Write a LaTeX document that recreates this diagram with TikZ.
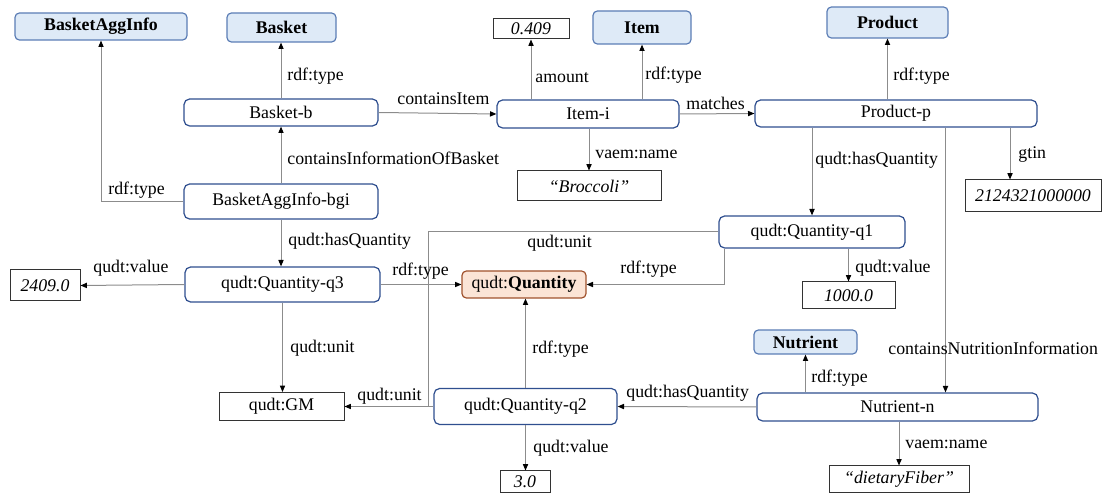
\documentclass[tikz,border=0pt]{standalone}
\usepackage{fontspec}
\setmainfont{Liberation Serif}
\usetikzlibrary{arrows.meta}
\definecolor{clsfill}{HTML}{DEEAF7}
\definecolor{clsdraw}{HTML}{5B7DB5}
\definecolor{instdraw}{HTML}{2F4F8F}
\definecolor{qfill}{HTML}{FBE4D6}
\definecolor{qdraw}{HTML}{A0522D}
\definecolor{edgecol}{HTML}{8C8C8C}
\definecolor{litdraw}{HTML}{333333}
\tikzset{
  every node/.style={font=\fontsize{8.9}{10}\selectfont},
  wh/.style 2 args={minimum width=#1*0.5pt, minimum height=#2*0.5pt},
  clsbox/.style={draw=clsdraw, fill=clsfill, rounded corners=2.2pt, line width=0.6pt, inner sep=0pt, font=\fontsize{8.9}{10}\selectfont\bfseries},
  instbox/.style={draw=instdraw, fill=white, rounded corners=2.8pt, line width=0.6pt, inner sep=0pt},
  litbox/.style={draw=litdraw, fill=white, line width=0.5pt, inner sep=0pt, font=\fontsize{8.9}{10}\selectfont\itshape},
  unitbox/.style={draw=litdraw, fill=white, line width=0.5pt, inner sep=0pt},
  qbox/.style={draw=qdraw, fill=qfill, rounded corners=2.2pt, line width=0.6pt, inner sep=0pt},
  lbl/.style={anchor=west, inner sep=0pt},
  edge/.style={draw=edgecol, line width=0.5pt, -{Triangle[length=3.2pt,width=2.6pt,color=black]}},
  plain/.style={draw=edgecol, line width=0.5pt},
}
\begin{document}
\begin{tikzpicture}[x=0.5pt,y=-0.5pt]
\useasboundingbox (0,0) rectangle (1103,496);
% class nodes
\node[clsbox,wh={172}{27}] (bai) at (101,26.5) {BasketAggInfo};
\node[clsbox,wh={109}{29}] (basket) at (281.5,27.5) {Basket};
\node[clsbox,wh={98}{33}] (item) at (642,27.5) {Item};
\node[clsbox,wh={121}{31}] (product) at (887.5,22.5) {Product};
\node[clsbox,wh={103}{24}] (nutrient) at (805.5,342) {Nutrient};
\node[qbox,wh={124}{27}] (quantity) at (524,284.5) {qudt:\textbf{Quantity}};
% instance nodes
\node[instbox,wh={194}{27}] (bb) at (281,112.5) {Basket-b};
\node[instbox,wh={194}{35}] (bgi) at (281,201.5) {BasketAggInfo-bgi};
\node[instbox,wh={182}{28}] (itemi) at (588,114) {Item-i};
\node[instbox,wh={282}{27}] (pp) at (896,113.5) {Product-p};
\node[instbox,wh={186}{32}] (q1) at (812,232) {qudt:Quantity-q1};
\node[instbox,wh={281}{28}] (nn) at (897.5,407) {Nutrient-n};
\node[instbox,wh={195}{35}] (q3) at (282.5,284.5) {qudt:Quantity-q3};
\node[instbox,wh={183}{36}] (q2) at (525.5,406.5) {qudt:Quantity-q2};
% literal nodes
\node[litbox,wh={76}{20}] (v0409) at (531,29) {0.409};
\node[litbox,wh={144}{30}] (broccoli) at (589,186) {``Broccoli''};
\node[litbox,wh={136}{32}] (gtin) at (1033,196) {2124321000000};
\node[litbox,wh={93}{27}] (v1000) at (848.5,295.5) {1000.0};
\node[litbox,wh={140}{27}] (df) at (899,479.5) {``dietaryFiber''};
\node[litbox,wh={70}{31}] (v2409) at (45,285.5) {2409.0};
\node[unitbox,wh={125}{28}] (gm) at (281.5,406.5) {qudt:GM};
\node[litbox,wh={50}{22}] (v30) at (525,482) {3.0};
% helper coordinates
\coordinate (gt) at ([xshift=-11.5pt]gtin.north);
\coordinate (cn) at ([xshift=24pt]nn.north);
\coordinate (qt) at ([xshift=3pt]q1.south west);
\coordinate (uj) at (428,406.5);
% edges
\draw[edge] (bb.north) -- (bb.north |- basket.south);
\draw[edge] (bgi.north) -- (bb.south);
\draw[edge] (bgi.west) -| (bai.south);
\draw[edge] (bgi.south) -- (bgi.south |- q3.north);
\draw[edge] (bb.east) -- (itemi.west);
\draw[edge] (v0409.south |- itemi.north) -- (v0409.south);
\draw[edge] (item.south |- itemi.north) -- (item.south);
\draw[edge] (broccoli.north |- itemi.south) -- (broccoli.north);
\draw[edge] (itemi.east) -- (pp.west);
\draw[edge] (product.south |- pp.north) -- (product.south);
\draw[edge] (q1.north |- pp.south) -- (q1.north);
\draw[edge] (gt |- pp.south) -- (gt);
\draw[edge] (cn |- pp.south) -- (cn);
\draw[edge] (q1.west) -| (uj) -- (gm.east);
\draw[edge] (qt) |- (quantity.east);
\draw[edge] (v1000.north |- q1.south) -- (v1000.north);
\draw[edge] (q3.west) -- (v2409.east);
\draw[edge] (q3.east) -- (quantity.west);
\draw[edge] (q3.south) -- (q3.south |- gm.north);
\draw[edge] (q2.north) -- (q2.north |- quantity.south);
\draw[edge] (q2.south) -- (q2.south |- v30.north);
\draw[plain] (q2.west) -- (uj);
\draw[edge] (nn.west) -- (q2.east);
\draw[edge] (nutrient.south |- nn.north) -- (nutrient.south);
\draw[edge] (df.north |- nn.south) -- (df.north);
% labels
\node[lbl] (l1) at (287,76) {rdf:type};
\node[lbl] (l2) at (287,158) {containsInformationOfBasket};
\node[lbl] (l3) at (108,190) {rdf:type};
\node[lbl] (l4) at (288,241) {qudt:hasQuantity};
\node[lbl] (l5) at (397,99) {containsItem};
\node[lbl] (l6) at (535,78) {amount};
\node[lbl] (l7) at (645,75) {rdf:type};
\node[lbl] (l8) at (595,154) {vaem:name};
\node[lbl] (l9) at (686,103) {matches};
\node[lbl] (l10) at (893,76) {rdf:type};
\node[lbl] (l11) at (815,160) {qudt:hasQuantity};
\node[lbl] (l12) at (1018,155) {gtin};
\node[lbl] (l13) at (888,348) {containsNutritionInformation};
\node[lbl] (l14) at (527,243) {qudt:unit};
\node[lbl] (l15) at (620,269) {rdf:type};
\node[lbl] (l16) at (855,268) {qudt:value};
\node[lbl] (l17) at (93,268) {qudt:value};
\node[lbl] (l18) at (392,271) {rdf:type};
\node[lbl] (l19) at (290,348) {qudt:unit};
\node[lbl] (l20) at (532,349) {rdf:type};
\node[lbl] (l21) at (533,448) {qudt:value};
\node[lbl] (l22) at (626,393) {qudt:hasQuantity};
\node[lbl] (l23) at (811,378) {rdf:type};
\node[lbl] (l24) at (905,444) {vaem:name};
\node[lbl] (l25) at (357,396) {qudt:unit};
\end{tikzpicture}
\end{document}
